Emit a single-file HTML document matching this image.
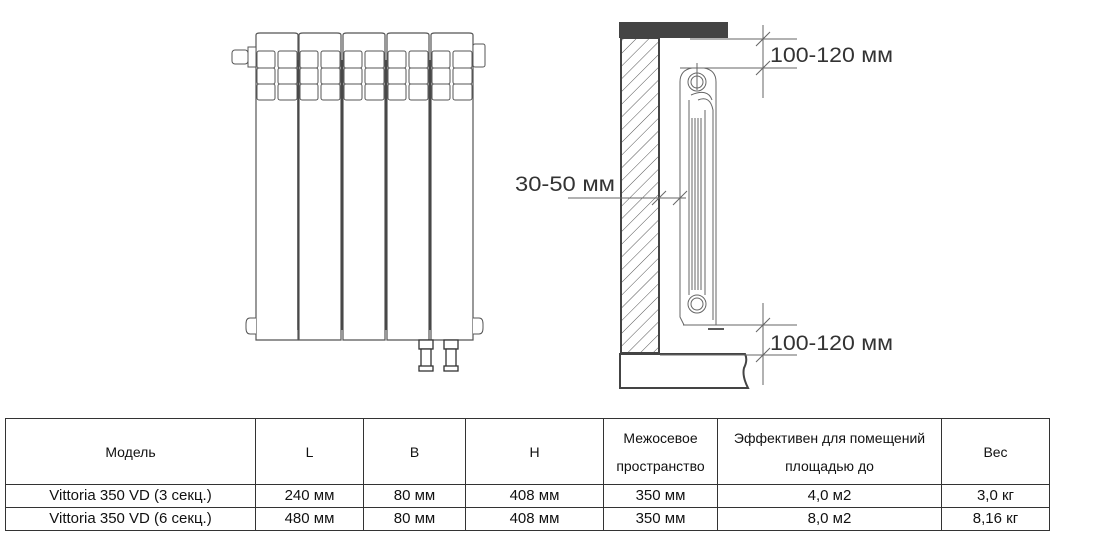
<!DOCTYPE html>
<html><head><meta charset="utf-8"><style>
body{margin:0;background:#fff;width:1100px;height:553px;overflow:hidden;position:relative;font-family:"Liberation Sans","DejaVu Sans",sans-serif}
svg{position:absolute;left:0;top:0}
table{position:absolute;left:5px;top:418px;border-collapse:collapse;font-family:"Liberation Sans","DejaVu Sans",sans-serif;font-size:14px;color:#111}
td{border:1.5px solid #333;text-align:center;padding:0;line-height:22px}
</style></head><body>
<svg width="1100" height="410" viewBox="0 0 1100 410">
<defs>
<pattern id="h" width="9" height="9" patternUnits="userSpaceOnUse" patternTransform="rotate(45)">
<line x1="0" y1="0" x2="0" y2="9" stroke="#555" stroke-width="1"/></pattern>
<g id="sec">
<path d="M0,340 V35 Q0,33 4,33 H38 Q42,33 42,35 V340 Z" fill="#fff" stroke="#555" stroke-width="1.2"/>
<rect x="1" y="51" width="18" height="17" rx="2" fill="none" stroke="#555"/>
<rect x="22" y="51" width="19" height="17" rx="2" fill="none" stroke="#555"/>
<rect x="1" y="68" width="18" height="16" rx="2" fill="none" stroke="#555"/>
<rect x="22" y="68" width="19" height="16" rx="2" fill="none" stroke="#555"/>
<rect x="1" y="84" width="18" height="16" rx="2" fill="none" stroke="#555"/>
<rect x="22" y="84" width="19" height="16" rx="2" fill="none" stroke="#555"/>
</g>
</defs>
<g>
<use href="#sec" x="256"/><use href="#sec" x="299"/><use href="#sec" x="343"/><use href="#sec" x="387"/><use href="#sec" x="431"/>
<g stroke="#444" stroke-width="1.5">
<line x1="298" y1="60" x2="298" y2="330"/><line x1="342" y1="60" x2="342" y2="330"/><line x1="386" y1="60" x2="386" y2="330"/><line x1="430" y1="60" x2="430" y2="330"/></g>
<rect x="232" y="50" width="16" height="14" rx="3" fill="#fff" stroke="#555"/>
<rect x="248" y="47" width="8" height="20" fill="#fff" stroke="#555"/>
<rect x="473" y="44" width="12" height="23" rx="2" fill="#fff" stroke="#555"/>
<path d="M256,318 h-6 q-4,0 -4,6 v4 q0,6 4,6 h6" fill="#fff" stroke="#555"/>
<path d="M473,318 h6 q4,0 4,6 v4 q0,6 -4,6 h-6" fill="#fff" stroke="#555"/>
<g fill="#fff" stroke="#333" stroke-width="1.3"><rect x="419" y="340" width="14" height="9"/><rect x="421" y="349" width="10" height="18"/><rect x="419" y="366" width="14" height="5"/>
<rect x="444" y="340" width="14" height="9"/><rect x="446" y="349" width="10" height="18"/><rect x="444" y="366" width="14" height="5"/></g>
</g>
<rect x="619" y="22" width="109" height="16" fill="#444"/>
<rect x="621" y="38" width="38" height="315" fill="url(#h)" stroke="#444" stroke-width="2"/>
<path d="M620,354 H745 Q748,360 744,368 Q742,376 748,388 H620 Z" fill="#fff" stroke="#444" stroke-width="2"/>
<g stroke="#666" stroke-width="1" fill="none">
<line x1="690" y1="39" x2="797" y2="39"/><line x1="680" y1="68" x2="797" y2="68"/>
<line x1="763" y1="25" x2="763" y2="98"/><line x1="756" y1="46" x2="770" y2="32"/><line x1="756" y1="75" x2="770" y2="61"/>
<line x1="683" y1="325" x2="797" y2="325"/><line x1="660" y1="355" x2="797" y2="355"/>
<line x1="763" y1="303" x2="763" y2="385"/><line x1="756" y1="332" x2="770" y2="318"/><line x1="756" y1="362" x2="770" y2="348"/>
<line x1="568" y1="198" x2="686" y2="198"/><line x1="652" y1="205" x2="666" y2="191"/><line x1="673" y1="205" x2="687" y2="191"/>
<line x1="697" y1="63" x2="697" y2="90"/>
<path d="M680,317 V82 Q680,70 692,68 H704 Q716,70 716,82 V325 H684 Z"/>
<circle cx="697" cy="82" r="9"/><circle cx="697" cy="82" r="6"/>
<circle cx="697" cy="304" r="9"/><circle cx="697" cy="304" r="6"/>
<path d="M691,95 Q708,88 712,100"/><path d="M698,100 Q710,95 713,110 V320"/>
<line x1="689" y1="100" x2="689" y2="295"/><line x1="692" y1="118" x2="692" y2="290"/><line x1="695" y1="118" x2="695" y2="290"/><line x1="698" y1="118" x2="698" y2="290"/><line x1="701" y1="118" x2="701" y2="290"/><line x1="705" y1="110" x2="705" y2="295"/>
<line x1="708" y1="329" x2="724" y2="329" stroke="#222" stroke-width="1.5"/>
</g>
<g font-size="21" fill="#333" font-family="'Liberation Sans','DejaVu Sans',sans-serif">
<text x="770" y="62" textLength="123" lengthAdjust="spacingAndGlyphs">100-120 мм</text>
<text x="770" y="350" textLength="123" lengthAdjust="spacingAndGlyphs">100-120 мм</text>
<text x="515" y="191" textLength="100" lengthAdjust="spacingAndGlyphs">30-50 мм</text>
</g>
</svg>
<table>
<colgroup><col style="width:250px"><col style="width:108px"><col style="width:102px"><col style="width:138px"><col style="width:114px"><col style="width:224px"><col style="width:108px"></colgroup>
<tr style="height:66px"><td>Модель</td><td>L</td><td>B</td><td>H</td><td style="line-height:28px">Межосевое<br>пространство</td><td style="line-height:28px">Эффективен для помещений<br>площадью до</td><td>Вес</td></tr>
<tr style="height:23px"><td style="font-size:15px">Vittoria 350 VD (3 секц.)</td><td style="font-size:15px">240 мм</td><td style="font-size:15px">80 мм</td><td style="font-size:15px">408 мм</td><td style="font-size:15px">350 мм</td><td style="font-size:15px">4,0 м2</td><td style="font-size:15px">3,0 кг</td></tr>
<tr style="height:22px"><td style="font-size:15px">Vittoria 350 VD (6 секц.)</td><td style="font-size:15px">480 мм</td><td style="font-size:15px">80 мм</td><td style="font-size:15px">408 мм</td><td style="font-size:15px">350 мм</td><td style="font-size:15px">8,0 м2</td><td style="font-size:15px">8,16 кг</td></tr>
</table>
</body></html>
